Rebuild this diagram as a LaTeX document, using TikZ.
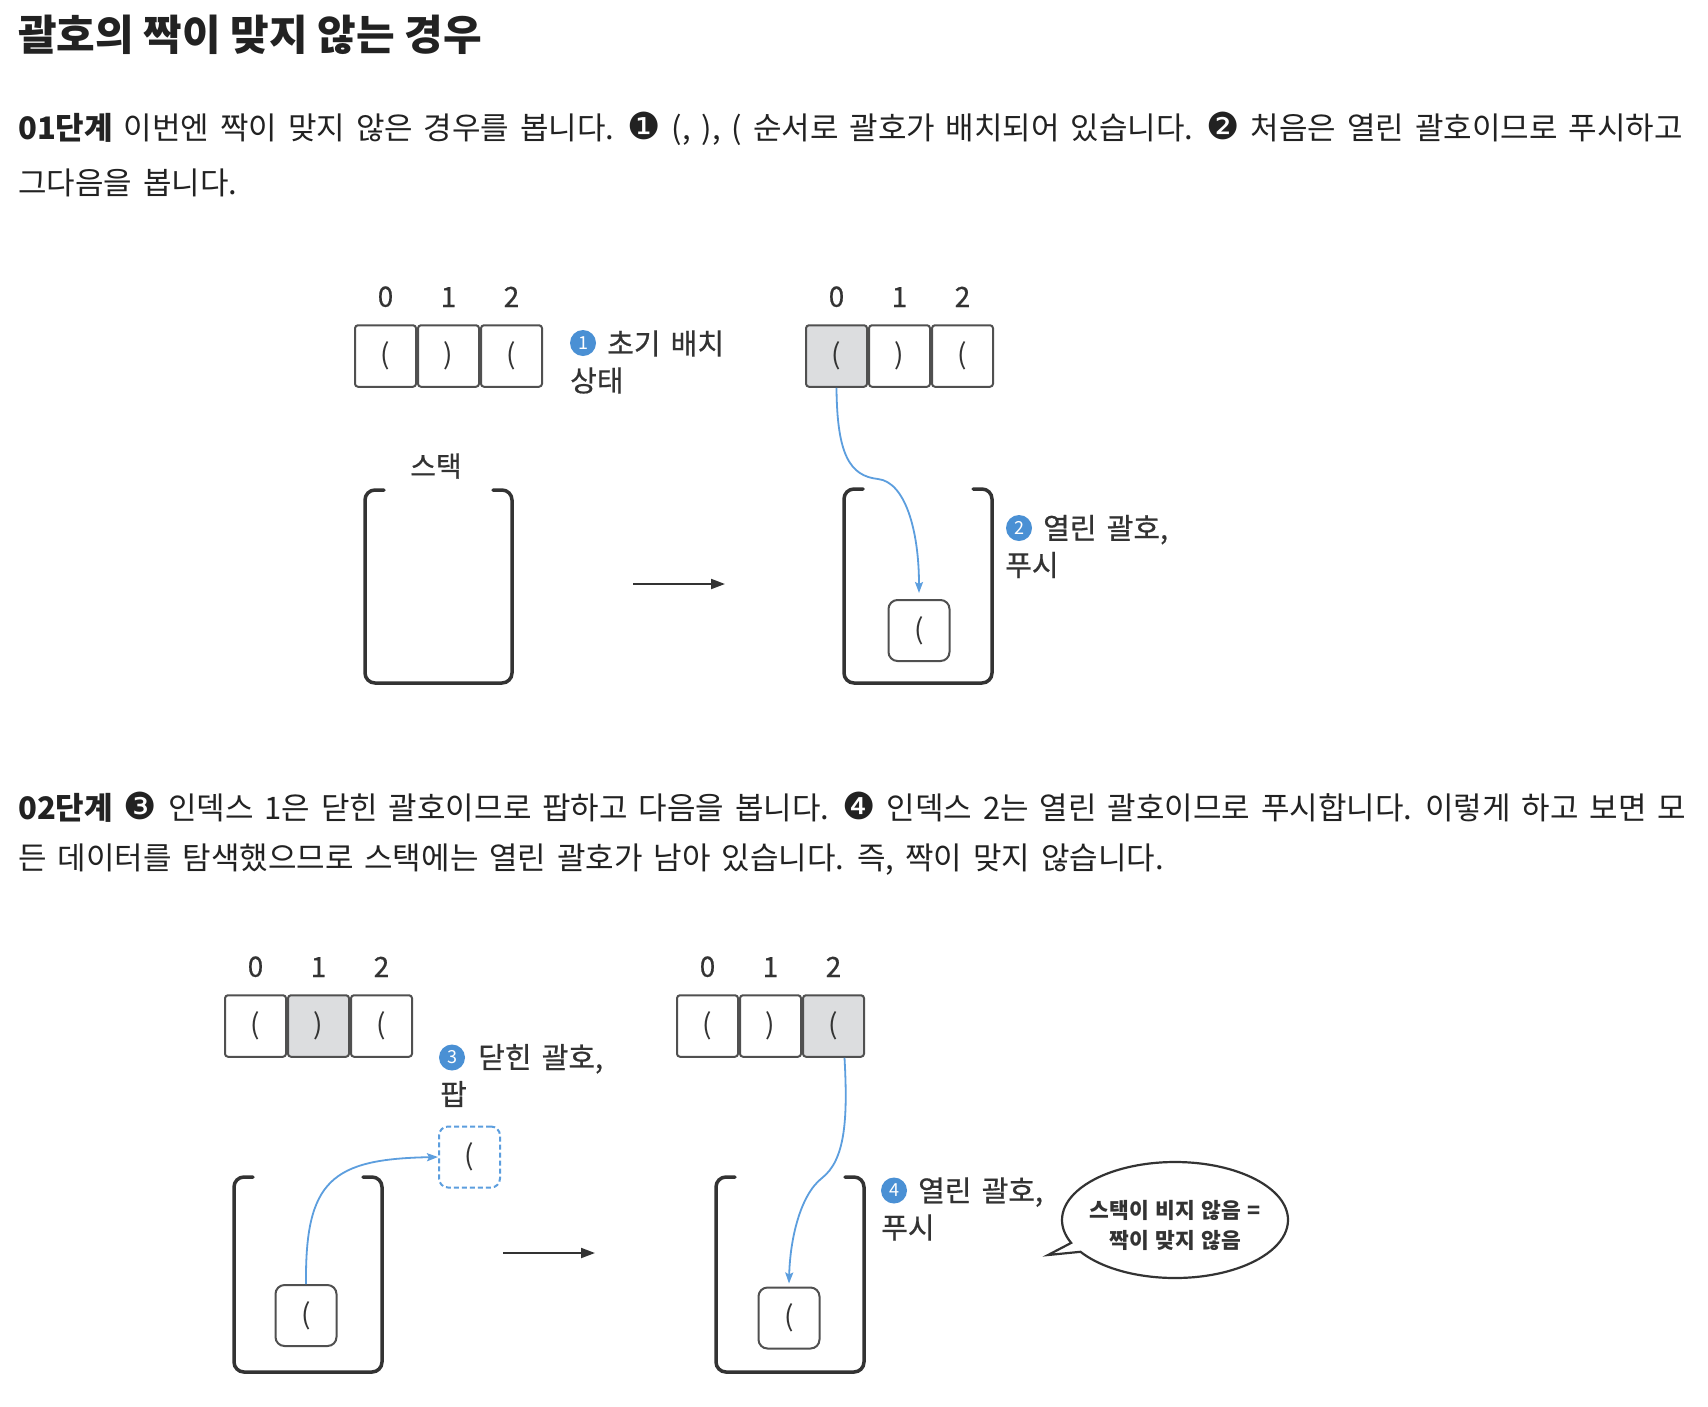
\documentclass[tikz,border=0pt]{standalone}
\usepackage{fontspec}
\setmainfont{Noto Sans CJK KR}
\newfontfamily\lblfont{Noto Sans CJK KR}[FakeBold=0.6]
\newfontfamily\dingfont{DejaVu Sans}[Scale=1.2]
\newcommand\widespace{\spaceskip=0.35em\relax}
\newcommand\bubspace{\spaceskip=0.3em\relax}
\definecolor{textblack}{RGB}{34,34,34}
\definecolor{inkgray}{RGB}{51,51,51}
\definecolor{cellgray}{RGB}{80,80,80}
\definecolor{hlgray}{RGB}{220,221,223}
\definecolor{badgeblue}{RGB}{74,144,212}
\definecolor{flowblue}{RGB}{92,158,222}
\usetikzlibrary{positioning, arrows.meta, shapes.callouts}

\begin{document}
\begin{tikzpicture}[x=1pt, y=-1pt,
  heading/.style={anchor=west, inner sep=0pt, text=textblack,
    font=\fontsize{42}{50}\selectfont\bfseries},
  para/.style={anchor=west, inner sep=0pt, text=textblack,
    font=\fontsize{31}{36}\selectfont\widespace},
  cell/.style={draw=cellgray, line width=2pt, rounded corners=3pt,
    minimum width=61pt, minimum height=61.5pt, inner sep=0pt,
    text=inkgray, font=\fontsize{28}{28}\selectfont},
  hicell/.style={cell, fill=hlgray},
  idx/.style={inner sep=0pt, text=inkgray, font=\lblfont\fontsize{28}{28}\selectfont},
  item/.style={draw=cellgray, line width=2pt, rounded corners=9pt,
    minimum size=61pt, inner sep=0pt, text=inkgray,
    font=\fontsize{28}{28}\selectfont},
  popped/.style={item, draw=flowblue, dash pattern=on 5pt off 3pt},
  lbl/.style={anchor=west, align=left, inner sep=0pt, text=inkgray,
    font=\lblfont\fontsize{29}{37}\selectfont\widespace},
  num/.style={circle, fill=badgeblue, text=white, minimum size=26pt,
    inner sep=0pt, font=\fontsize{18}{18}\selectfont},
  stack/.style={draw=inkgray, line width=3.5pt, rounded corners=10pt, line cap=round},
  flow/.style={draw=flowblue, line width=1.8pt, -{Stealth[length=11pt, width=8pt, inset=2pt]}},
  next/.style={draw=inkgray, line width=2pt, -{Triangle[length=14pt, width=10pt]}},
  bubble/.style={ellipse callout, draw=inkgray, line width=2.2pt,
    minimum width=226pt, minimum height=116pt,
    callout absolute pointer={(1048,1255)}, callout pointer arc=10},
  bubtext/.style={align=center, inner sep=0pt, text=inkgray,
    font=\fontsize{21.5}{30}\selectfont\bfseries\bubspace},
  node distance=0pt,
]
  \fill[white] (0,0) rectangle (1708,1406);

  % heading and steps
  \node[heading] (title) at (18,35) {괄호의 짝이 맞지 않는 경우};
  \node[para] (t1) at (18,129) {\textbf{01단계} 이번엔 짝이 맞지 않은 경우를 봅니다. {\dingfont ❶} (, ), ( 순서로 괄호가 배치되어 있습니다. {\dingfont ❷} 처음은 열린 괄호이므로 푸시하고};
  \node[para] (t2) at (18,183) {그다음을 봅니다.};
  \node[para] (t3) at (18,807) {\textbf{02단계} {\dingfont ❸} 인덱스 1은 닫힌 괄호이므로 팝하고 다음을 봅니다. {\dingfont ❹} 인덱스 2는 열린 괄호이므로 푸시합니다. 이렇게 하고 보면 모};
  \node[para] (t4) at (18,860) {든 데이터를 탐색했으므로 스택에는 열린 괄호가 남아 있습니다. 즉, 짝이 맞지 않습니다.};

  % panel 1: initial state
  \node[cell] (a0) at (385.5,356) {(};
  \node[cell, right=of a0] (a1) {)};
  \node[cell, right=of a1] (a2) {(};
  \node[idx, above=17pt of a0] (a0i) {0};
  \node[idx, above=17pt of a1] (a1i) {1};
  \node[idx, above=17pt of a2] (a2i) {2};
  \node[lbl] (l1) at (570,362) {\hspace{37pt}초기 배치\\상태};
  \node[num] (n1) at ([xshift=13pt, yshift=19pt]l1.west) {1};
  \node[idx] (stk) at (436,466) {스택};
  \draw[stack] (384,490) -- (365,490) -- (365,683) -- (512,683) -- (512,490) -- (493,490);
  \coordinate (m1s) at (633,584);
  \coordinate (m1e) at (725,584);
  \draw[next] (m1s) -- (m1e);

  % panel 2: push
  \node[hicell] (b0) at (836.5,356) {(};
  \node[cell, right=of b0] (b1) {)};
  \node[cell, right=of b1] (b2) {(};
  \node[idx, above=17pt of b0] (b0i) {0};
  \node[idx, above=17pt of b1] (b1i) {1};
  \node[idx, above=17pt of b2] (b2i) {2};
  \draw[stack] (863,489) -- (844,489) -- (844,683) -- (992,683) -- (992,489) -- (973,489);
  \node[item] (p2) at (919,630.5) {(};
  \draw[flow] (b0.south) .. controls (837,455) and (850,476) .. (878,479)
    .. controls (905,482) and (919,530) .. ([yshift=6pt]p2.north);
  \node[lbl] (l2) at (1005,546.5) {\hspace{38pt}열린 괄호,\\푸시};
  \node[num] (n2) at ([xshift=14pt, yshift=18.5pt]l2.west) {2};

  % panel 3: pop
  \node[cell] (c0) at (255.5,1026) {(};
  \node[hicell, right=of c0] (c1) {)};
  \node[cell, right=of c1] (c2) {(};
  \node[idx, above=17pt of c0] (c0i) {0};
  \node[idx, above=17pt of c1] (c1i) {1};
  \node[idx, above=17pt of c2] (c2i) {2};
  \node[lbl] (l3) at (440,1075.5) {\hspace{38pt}닫힌 괄호,\\팝};
  \node[num] (n3) at ([xshift=12pt, yshift=18pt]l3.west) {3};
  \draw[stack] (253,1177) -- (234,1177) -- (234,1372) -- (382,1372) -- (382,1177) -- (363,1177);
  \node[item] (p3) at (306,1315.5) {(};
  \node[popped] (q3) at (469.5,1157) {(};
  \draw[flow] (p3.north) .. controls (305,1180) and (332,1159) .. (q3.west);
  \coordinate (m3s) at (503,1253);
  \coordinate (m3e) at (595,1253);
  \draw[next] (m3s) -- (m3e);

  % panel 4: push, stack not empty
  \node[cell] (d0) at (707.5,1026) {(};
  \node[cell, right=of d0] (d1) {)};
  \node[hicell, right=of d1] (d2) {(};
  \node[idx, above=17pt of d0] (d0i) {0};
  \node[idx, above=17pt of d1] (d1i) {1};
  \node[idx, above=17pt of d2] (d2i) {2};
  \draw[stack] (735,1177) -- (716,1177) -- (716,1372) -- (864,1372) -- (864,1177) -- (845,1177);
  \node[item] (p4) at (789,1318) {(};
  \draw[flow] ([xshift=11pt]d2.south) .. controls (848,1120) and (845,1160) .. (822,1178)
    .. controls (800,1195) and (790,1240) .. ([yshift=3pt]p4.north);
  \node[lbl] (l4) at (881,1209) {\hspace{37pt}열린 괄호,\\푸시};
  \node[num] (n4) at ([xshift=13pt, yshift=18.5pt]l4.west) {4};
  \node[bubble] (talk) at (1175,1220) {};
  \node[bubtext] (talkt) at ([yshift=-5pt]talk.center) {스택이 비지 않음 =\\짝이 맞지 않음};
\end{tikzpicture}
\end{document}
